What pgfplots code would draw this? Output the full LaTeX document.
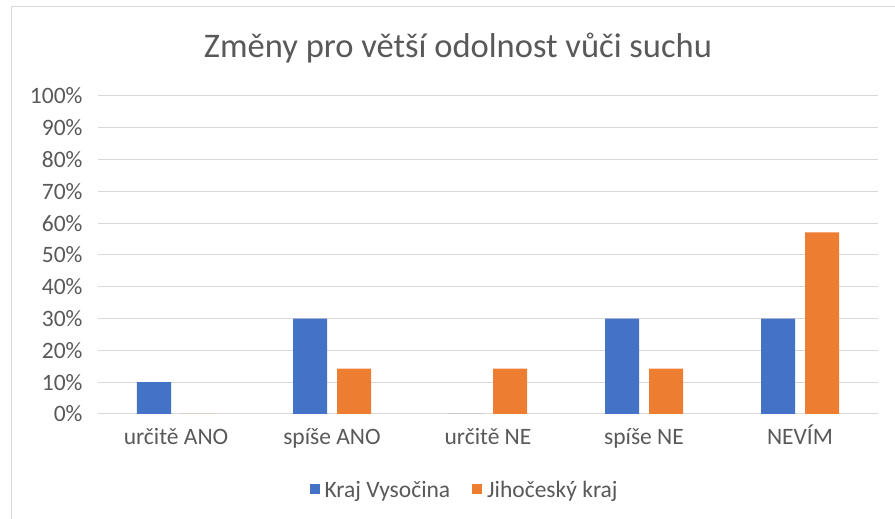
\documentclass[border=0pt]{standalone}
\usepackage{pgfplots}
\pgfplotsset{compat=1.18}
\usepackage{fontspec}
\setmainfont{Carlito}
\definecolor{cblue}{HTML}{4472C4}
\definecolor{corange}{HTML}{ED7D31}
\definecolor{ctext}{HTML}{595959}
\definecolor{cgrid}{HTML}{D9D9D9}
\begin{document}
\begin{tikzpicture}[x=1pt,y=1pt]
\path[use as bounding box] (0,0) rectangle (895,519);
\draw[cgrid,line width=1pt] (11,0) -- (11,512) -- (895,512);
\node[text=ctext,font=\fontsize{34.5}{40}\selectfont] at (458,471) {Změny pro větší odolnost vůči suchu};
\begin{axis}[
  at={(98pt,105pt)}, anchor=south west,
  scale only axis, width=780pt, height=318pt,
  ybar=10pt, bar width=34pt,
  xmin=-0.5, xmax=4.5, ymin=0, ymax=100,
  xtick=data,
  xticklabels={určitě ANO, spíše ANO, určitě NE, spíše NE, NEVÍM},
  ytick={0,10,...,100},
  yticklabel={\pgfmathprintnumber{\tick}\%},
  /pgf/number format/assume math mode=true,
  ymajorgrids, major grid style={cgrid,line width=1pt},
  axis line style={draw=none},
  major tick length=0pt,
  ticklabel style={text=ctext,font=\fontsize{23.5}{27}\selectfont},
  yticklabel style={xshift=-12pt},
  xticklabel style={yshift=-10pt, text height=17pt, text depth=5pt},
  legend style={at={(0.47,-0.239)}, anchor=center, draw=none, legend columns=2,
    font=\fontsize{23.5}{27}\selectfont, text=ctext,
    /tikz/every even column/.append style={column sep=20pt}},
  legend image code/.code={\fill[#1] (0pt,-4.5pt) rectangle (10pt,5.5pt); \path (13pt,0pt);},
]
\addplot[fill=cblue,draw=none] coordinates {(0,10) (1,30) (2,0) (3,30) (4,30)};
\addplot[fill=corange,draw=none] coordinates {(0,0) (1,14.29) (2,14.29) (3,14.29) (4,57.14)};
\legend{Kraj Vysočina, Jihočeský kraj}
\end{axis}
\end{tikzpicture}
\end{document}
